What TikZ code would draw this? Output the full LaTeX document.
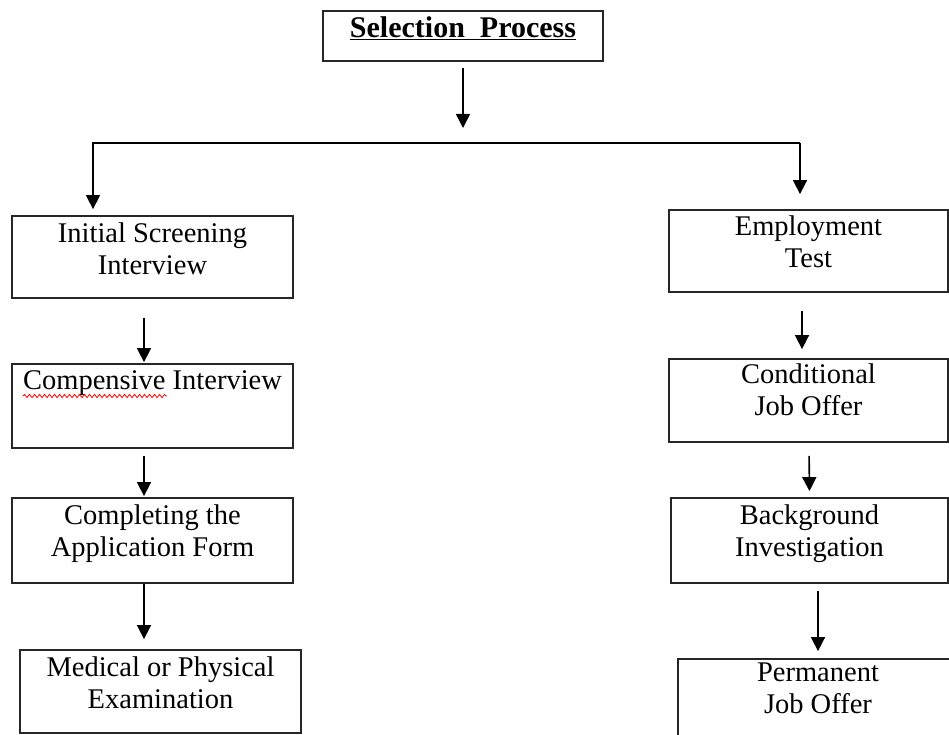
\documentclass[tikz,border=0pt]{standalone}
\usepackage{fontspec}
\setmainfont{Liberation Serif}
\usetikzlibrary{arrows.meta,decorations.pathmorphing}

\tikzset{
  stepbox/.style={draw=black!85, line width=1.8pt, minimum width=281pt, minimum height=82pt, inner sep=0pt},
  steptext/.style={anchor=north, align=center, inner sep=0pt, font=\fontsize{28.5}{32}\selectfont},
  flow/.style={line width=1.6pt, -{Triangle[length=14pt,width=14pt]}}
}

\begin{document}
\begin{tikzpicture}[x=1pt,y=-1pt]
    \useasboundingbox (0,0) rectangle (949,735);
    \clip (0,0) rectangle (949,735);

    \node [stepbox, minimum width=280pt, minimum height=50pt] (title) at (463,36) {};
    \node [steptext, font=\fontsize{30}{32}\selectfont\bfseries] (titleT) at ([yshift=-6pt]title.north) {\underline{Selection\ \ Process}};

    % left column
    \node [stepbox] (init) at (152.5,257) {};
    \node [steptext] (initT) at ([yshift=-7pt]init.north) {Initial Screening\\Interview};
    \node [stepbox, minimum height=84pt] (comp) at (152.5,406) {};
    \node [steptext] (compT) at ([yshift=-7pt]comp.north) {Compensive Interview};
    \node [stepbox, minimum height=85pt] (appl) at (152.5,540.5) {};
    \node [steptext] (applT) at ([yshift=-7pt]appl.north) {Completing the\\Application Form};
    \node [stepbox, minimum height=83pt] (medic) at (160.5,691.5) {};
    \node [steptext] (medicT) at ([yshift=-7pt]medic.north) {Medical or Physical\\Examination};

    % right column
    \node [stepbox, minimum width=279pt] (empl) at (808.5,251) {};
    \node [steptext] (emplT) at ([yshift=-6pt]empl.north) {Employment\\Test};
    \node [stepbox, minimum width=279pt, minimum height=83pt] (cond) at (808.5,400.5) {};
    \node [steptext] (condT) at ([yshift=-5pt]cond.north) {Conditional\\Job Offer};
    \node [stepbox, minimum width=277pt, minimum height=85pt] (backg) at (809.5,540.5) {};
    \node [steptext] (backgT) at ([yshift=-7pt]backg.north) {Background\\Investigation};
    \node [stepbox, minimum width=280pt] (perm) at (818,700) {};
    \node [steptext] (permT) at ([yshift=-5pt]perm.north) {Permanent\\Job Offer};

    \coordinate (split) at (463,128);
    \coordinate (bl) at (93,143);
    \coordinate (br) at (800,143);
    \draw [flow, shorten <=6pt] (title.south) -- (split);
    \draw [flow, {Triangle[length=14pt,width=14pt]}-, shorten <=6pt, shorten >=0pt] ([xshift=-59.5pt]init.north) -- (bl) -- (br);
    \draw [flow, shorten >=15pt] (br) -- ([xshift=-8.5pt]empl.north);

    \draw [flow, shorten <=19pt, shorten >=1pt] ([xshift=-8.5pt]init.south) -- ([xshift=-8.5pt]comp.north);
    \draw [flow, shorten <=7pt, shorten >=1pt] ([xshift=-8.5pt]comp.south) -- ([xshift=-8.5pt]appl.north);
    \draw [flow, shorten >=10pt] ([xshift=-8.5pt]appl.south) -- ([xshift=-16.5pt]medic.north);

    \draw [flow, shorten <=18pt, shorten >=9pt] ([xshift=-6.5pt]empl.south) -- ([xshift=-6.5pt]cond.north);
    \draw [flow, shorten <=13pt, shorten >=6pt] ([xshift=0.5pt]cond.south) -- (backg.north);
    \draw [flow, shorten <=7pt, shorten >=7pt] ([xshift=8.5pt]backg.south) -- (perm.north);

    % spell check mark
    \draw [red, line width=0.8pt, decorate, decoration={snake, amplitude=1.6pt, segment length=5pt}] (23,396) -- (167,396);
\end{tikzpicture}
\end{document}
